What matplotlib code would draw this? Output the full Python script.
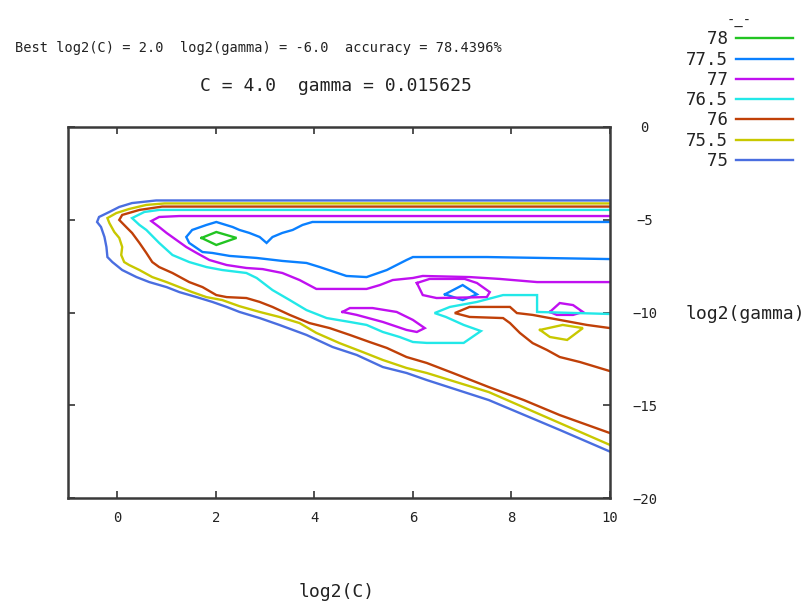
import numpy as np
import matplotlib.pyplot as plt

# contour levels (cross validation accuracy %) and line colours
levels = ["78", "77.5", "77", "76.5", "76", "75.5", "75"]
colors = ["#22c422", "#0a80ff", "#c010f0", "#22e8e8", "#c04008", "#c8c800", "#4a6ee0"]

# contour lines: x = log2(C), y = log2(gamma)
c78_x = [1.71, 2.01, 2.42, 2.01]
c78_y = [-5.98, -5.66, -5.98, -6.36]

c775_x = [10, 3.96, 3.76, 3.56, 3.35, 3.15, 3.03, 2.89, 2.68, 2.48, 2.34, 2.01, 1.81, 1.52, 1.40,
          1.46, 1.73, 1.93, 2.28, 2.83, 3.35, 3.84, 4.11, 4.65, 5.06, 5.47, 5.87, 6.00, 7.50, 10]
c775_y = [-5.12, -5.12, -5.28, -5.55, -5.71, -5.93, -6.25, -5.93, -5.71, -5.55, -5.39, -5.12, -5.28,
          -5.55, -5.93, -6.25, -6.74, -6.79, -6.95, -7.06, -7.22, -7.33, -7.55, -8.03, -8.09, -7.71,
          -7.17, -7.01, -7.01, -7.12]
c775b_x = [6.65, 7.01, 7.30, 7.01]
c775b_y = [-9.02, -8.52, -9.02, -9.33]

c77_x = [10, 1.26, 0.85, 0.69, 0.85, 1.00, 1.20, 1.40, 1.61, 1.87, 2.22, 2.62, 2.95, 3.35, 3.70,
         4.04, 5.06, 5.33, 5.59, 6.00, 6.20, 7.15, 7.76, 8.52, 10]
c77_y = [-4.80, -4.80, -4.85, -5.07, -5.39, -5.71, -6.09, -6.47, -6.79, -7.17, -7.44, -7.60, -7.66,
         -7.87, -8.25, -8.73, -8.73, -8.52, -8.25, -8.14, -8.03, -8.09, -8.19, -8.36, -8.36]
c77b_x = [6.08, 6.20, 6.48, 7.50, 7.56, 7.30, 7.05, 6.34]
c77b_y = [-8.41, -9.06, -9.22, -9.17, -8.90, -8.41, -8.19, -8.19]
c77c_x = [4.57, 4.72, 5.18, 5.67, 6.00, 6.24, 6.08, 5.87, 5.39, 4.86]
c77c_y = [-9.97, -9.76, -9.76, -9.97, -10.40, -10.84, -11.05, -10.94, -10.51, -10.13]
c77d_x = [8.78, 8.98, 9.25, 9.45, 9.25, 8.92]
c77d_y = [-9.97, -9.49, -9.60, -9.97, -10.13, -10.13]

c765_x = [10, 0.85, 0.55, 0.30, 0.45, 0.59, 0.85, 1.12, 1.46, 1.81, 2.13, 2.62, 2.83, 3.15, 3.50,
          3.84, 4.25, 4.72, 5.06, 5.39, 5.73, 6.00, 6.28, 7.03, 7.38, 7.03, 6.67, 6.44, 6.75, 7.30,
          7.83, 8.52, 8.52, 10]
c765_y = [-4.47, -4.47, -4.58, -4.91, -5.28, -5.55, -6.25, -6.90, -7.28, -7.55, -7.71, -7.87, -8.14,
          -8.79, -9.33, -9.87, -10.30, -10.51, -10.67, -11.05, -11.32, -11.59, -11.64, -11.64,
          -11.00, -10.67, -10.24, -10.03, -9.70, -9.43, -9.06, -9.06, -9.97, -10.08]

c76_x = [10, 0.91, 0.45, 0.10, 0.04, 0.18, 0.30, 0.45, 0.59, 0.71, 0.85, 1.12, 1.46, 1.73, 2.01,
         2.22, 2.62, 2.89, 3.15, 3.50, 3.90, 4.31, 4.72, 5.12, 5.47, 5.87, 6.28, 6.81, 7.54, 8.25,
         8.98, 10]
c76_y = [-4.29, -4.29, -4.47, -4.74, -5.01, -5.39, -5.71, -6.25, -6.79, -7.28, -7.55, -7.87, -8.36,
         -8.63, -9.06, -9.17, -9.22, -9.43, -9.70, -10.13, -10.57, -10.84, -11.21, -11.59, -11.91,
         -12.40, -12.72, -13.26, -14.02, -14.72, -15.53, -16.50]
c76b_x = [10, 9.53, 8.98, 8.43, 8.11, 7.97, 7.15, 6.85, 7.15, 7.83, 7.97, 8.17, 8.43, 8.72, 8.98,
          9.39, 10]
c76b_y = [-10.84, -10.67, -10.40, -10.13, -10.03, -9.70, -9.70, -10.03, -10.24, -10.30, -10.57,
          -11.10, -11.65, -12.02, -12.40, -12.67, -13.16]

c755_x = [10, 0.96, 0.59, 0.24, -0.02, -0.20, -0.16, -0.06, 0.04, 0.10, 0.08, 0.14, 0.24, 0.45,
          0.71, 1.00, 1.26, 1.52, 1.81, 2.13, 2.48, 2.89, 3.29, 3.70, 4.04, 4.51, 4.98, 5.39, 5.87,
          6.28, 7.54, 8.98, 10]
c755_y = [-4.12, -4.12, -4.20, -4.42, -4.64, -4.91, -5.18, -5.66, -5.98, -6.47, -6.90, -7.28, -7.44,
          -7.71, -8.09, -8.36, -8.63, -8.90, -9.17, -9.33, -9.66, -9.97, -10.24, -10.57, -11.10,
          -11.65, -12.13, -12.56, -12.99, -13.26, -14.29, -15.96, -17.14]
c755b_x = [8.58, 9.04, 9.45, 9.13, 8.78]
c755b_y = [-10.94, -10.67, -10.84, -11.48, -11.32]

c75_x = [10, 0.79, 0.30, 0.04, -0.16, -0.37, -0.41, -0.33, -0.26, -0.22, -0.20, -0.10, 0.10, 0.39,
         0.65, 1.00, 1.26, 1.61, 1.93, 2.22, 2.48, 2.89, 3.29, 3.84, 4.37, 4.86, 5.39, 5.87, 6.28,
         7.54, 8.98, 10]
c75_y = [-3.96, -3.96, -4.10, -4.31, -4.58, -4.85, -5.12, -5.39, -5.93, -6.47, -7.01, -7.28, -7.71,
         -8.09, -8.36, -8.63, -8.90, -9.17, -9.43, -9.70, -9.97, -10.30, -10.67, -11.21, -11.86,
         -12.29, -12.94, -13.26, -13.64, -14.72, -16.33, -17.50]

xticks = [0, 2, 4, 6, 8, 10]
yticks = [0, -5, -10, -15, -20]


def closed(x, y):
    return np.append(x, x[0]), np.append(y, y[0])


# (x, y, closed?) per level, same order as levels
lines = [
    [(c78_x, c78_y, True)],
    [(c775_x, c775_y, False), (c775b_x, c775b_y, True)],
    [(c77_x, c77_y, False), (c77b_x, c77b_y, True), (c77c_x, c77c_y, True), (c77d_x, c77d_y, True)],
    [(c765_x, c765_y, False)],
    [(c76_x, c76_y, False), (c76b_x, c76b_y, False)],
    [(c755_x, c755_y, False), (c755b_x, c755b_y, True)],
    [(c75_x, c75_y, False)],
]

mono = "DejaVu Sans Mono"
txt = "#222222"

fig = plt.figure(figsize=(8.04, 6.02), dpi=100)
ax = fig.add_axes([68 / 804, 1 - 498 / 602, 542 / 804, 371 / 602])

for lev, col, segs in zip(levels, colors, lines):
    for i, (x, y, cl) in enumerate(segs):
        if cl:
            x, y = closed(x, y)
        ax.plot(x, y, color=col, lw=1.7, solid_joinstyle="miter",
                label=f"{lev:>4}" if i == 0 else None)

ax.set_xlim(-1, 10)
ax.set_ylim(-20, 0)
ax.set_xticks(xticks)
ax.set_yticks(yticks)
ax.tick_params(direction="in", length=5, width=1.2, top=True, right=True,
               labelleft=False, labelright=True, colors="#333333", labelcolor=txt)
ax.tick_params(axis="x", pad=9, labelsize=10)
ax.tick_params(axis="y", pad=25, labelsize=10)
for lab in ax.get_yticklabels():
    lab.set_horizontalalignment("center")
for lab in ax.get_xticklabels() + ax.get_yticklabels():
    lab.set_family(mono)
for sp in ax.spines.values():
    sp.set_color("#3a3a3a")
    sp.set_linewidth(1.8)

# two-line title and axis labels, placed like the gnuplot output
fig.text(15 / 804, 1 - 48 / 602, "Best log2(C) = 2.0  log2(gamma) = -6.0  accuracy = 78.4396%",
         family=mono, fontsize=9.8, color=txt, ha="left", va="center")
fig.text(200 / 804, 1 - 86 / 602, "C = 4.0  gamma = 0.015625",
         family=mono, fontsize=13, color=txt, ha="left", va="center")
fig.text(337 / 804, 1 - 592 / 602, "log2(C)", family=mono, fontsize=13,
         color=txt, ha="center", va="center")
fig.text(686 / 804, 1 - 314 / 602, "log2(gamma)", family=mono, fontsize=13,
         color=txt, ha="left", va="center")

leg = ax.legend(loc="upper right", bbox_to_anchor=(800 / 804, 1 - 7 / 602),
                bbox_transform=fig.transFigure, frameon=False, markerfirst=False,
                title="-_-", handlelength=3.3, handletextpad=0.45, labelspacing=0.13,
                borderaxespad=0, prop={"family": mono, "size": 12.5})
leg.get_title().set_family(mono)
leg.get_title().set_fontsize(10)
leg.get_title().set_color(txt)
for t in leg.get_texts():
    t.set_color(txt)

fig.savefig("out.png", dpi=100)
